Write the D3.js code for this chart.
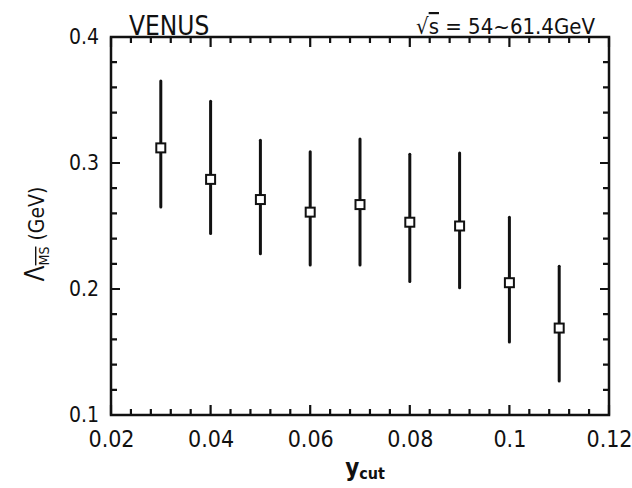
<!DOCTYPE html>
<html>
<head>
<meta charset="utf-8">
<script src="https://cdn.jsdelivr.net/npm/d3@7"></script>
<style>
  body { margin: 0; background: white; }
  svg text { font-family: "DejaVu Sans Condensed", "Liberation Sans Narrow", sans-serif; fill: #111; }
</style>
</head>
<body>
<svg id="chart" width="632" height="488"></svg>
<script>
// values
const ycut    = [0.03, 0.04, 0.05, 0.06, 0.07, 0.08, 0.09, 0.10, 0.11]
const lambda  = [0.312, 0.287, 0.271, 0.261, 0.267, 0.253, 0.250, 0.205, 0.169]
const errLow  = [0.265, 0.244, 0.228, 0.219, 0.219, 0.206, 0.201, 0.158, 0.127]
const errHigh = [0.365, 0.349, 0.318, 0.309, 0.319, 0.307, 0.308, 0.257, 0.218]

const xTicks = [0.02, 0.04, 0.06, 0.08, 0.10, 0.12]
const xTickLabels = ['0.02', '0.04', '0.06', '0.08', '0.1', '0.12']
const yTicks = [0.1, 0.2, 0.3, 0.4]
const yTickLabels = ['0.1', '0.2', '0.3', '0.4']

const svg = d3.select('#chart')

const x = d3.scaleLinear().domain([0.02, 0.12]).range([111, 609])
const y = d3.scaleLinear().domain([0.1, 0.4]).range([415, 37])

const xMinor = d3.range(0, 26).map(i => 0.02 + i * 0.004).filter(v => !xTicks.some(t => Math.abs(t - v) < 1e-9))
const yMinor = d3.range(0, 16).map(i => 0.1 + i * 0.02).filter(v => !yTicks.some(t => Math.abs(t - v) < 1e-9))

// labels from d3 axes
const bottom = svg.append('g').attr('transform', `translate(0,${y(0.1)})`)
    .call(d3.axisBottom(x).tickValues(xTicks).tickSize(0).tickFormat((d, i) => xTickLabels[i]).tickPadding(16))
bottom.select('.domain').remove()
bottom.selectAll('text').attr('font-size', 23).attr('dy', '0.71em')

const left = svg.append('g').attr('transform', `translate(${x(0.02)},0)`)
    .call(d3.axisLeft(y).tickValues(yTicks).tickSize(0).tickFormat((d, i) => yTickLabels[i]).tickPadding(12))
left.select('.domain').remove()
left.selectAll('text').attr('font-size', 21)

// inward tick marks, one path for all four sides
const xt = xTicks.map(v => ({v, len: 10})).concat(xMinor.map(v => ({v, len: 6})))
const yt = yTicks.map(v => ({v, len: 9})).concat(yMinor.map(v => ({v, len: 6})))
const path = d3.path()
for (const d of xt) {
    path.moveTo(x(d.v), y(0.1)); path.lineTo(x(d.v), y(0.1) - d.len)
    path.moveTo(x(d.v), y(0.4)); path.lineTo(x(d.v), y(0.4) + d.len)
}
for (const d of yt) {
    path.moveTo(x(0.02), y(d.v)); path.lineTo(x(0.02) + d.len, y(d.v))
    path.moveTo(x(0.12), y(d.v)); path.lineTo(x(0.12) - d.len, y(d.v))
}
svg.append('path')
    .attr('d', path.toString())
    .attr('fill', 'none')
    .attr('stroke', '#111')
    .attr('stroke-width', 2.2)

// frame
svg.append('rect')
    .attr('x', x(0.02))
    .attr('y', y(0.4))
    .attr('width', x(0.12) - x(0.02))
    .attr('height', y(0.1) - y(0.4))
    .attr('fill', 'none')
    .attr('stroke', '#111')
    .attr('stroke-width', 2.5)

// error bars + open squares
const pts = ycut.map((v, i) => ({x: v, y: lambda[i], lo: errLow[i], hi: errHigh[i]}))

svg.append('g').selectAll('line')
    .data(pts)
    .enter()
    .append('line')
    .attr('x1', d => x(d.x))
    .attr('x2', d => x(d.x))
    .attr('y1', d => y(d.lo))
    .attr('y2', d => y(d.hi))
    .attr('stroke', '#111')
    .attr('stroke-width', 3)
    .attr('stroke-linecap', 'round')

svg.append('g').selectAll('rect')
    .data(pts)
    .enter()
    .append('rect')
    .attr('x', d => x(d.x) - 4.5)
    .attr('y', d => y(d.y) - 4.5)
    .attr('width', 9)
    .attr('height', 9)
    .attr('fill', 'white')
    .attr('stroke', '#111')
    .attr('stroke-width', 2)

// titles
svg.append('text')
    .text('VENUS')
    .attr('x', 129)
    .attr('y', 35)
    .attr('font-size', 26)

const en = svg.append('text')
    .attr('x', 595)
    .attr('y', 34)
    .attr('text-anchor', 'end')
    .attr('font-size', 22)
en.append('tspan').text('√')
en.append('tspan').text('s').attr('text-decoration', 'overline')
en.append('tspan').text(' = 54~61.4GeV')

// axis labels
const yl = svg.append('text')
    .attr('transform', 'translate(44,234) rotate(-90)')
    .attr('text-anchor', 'middle')
    .attr('font-size', 21)
yl.append('tspan').text('Λ').attr('font-size', 26)
yl.append('tspan').text('MS').attr('font-size', 14).attr('dy', 5).attr('text-decoration', 'overline')
yl.append('tspan').text('  (GeV)').attr('dy', -5)

const xl = svg.append('text')
    .attr('x', 365)
    .attr('y', 476)
    .attr('text-anchor', 'middle')
    .attr('font-size', 24)
    .attr('font-weight', 'bold')
xl.append('tspan').text('y')
xl.append('tspan').text('cut').attr('font-size', 16).attr('dy', 3)
</script>
</body>
</html>
